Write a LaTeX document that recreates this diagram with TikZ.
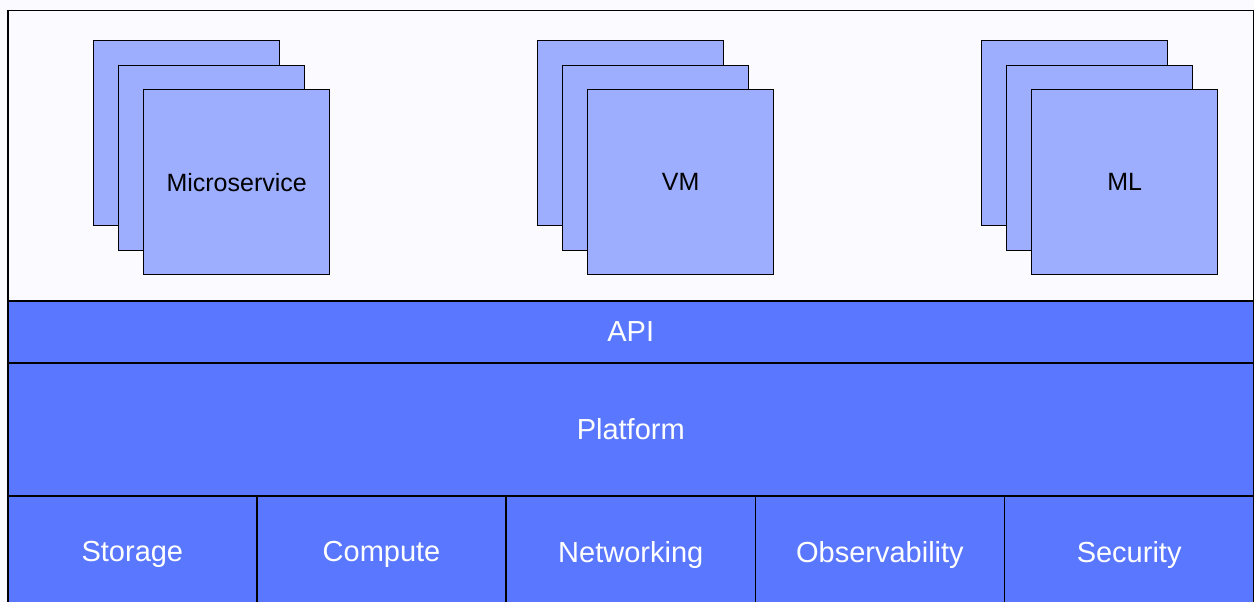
\documentclass[tikz,border=0pt]{standalone}
\usepackage{fontspec}
\setmainfont{Liberation Sans}
\usetikzlibrary{positioning}

\definecolor{paleback}{HTML}{FAFAFF}
\definecolor{cardblue}{HTML}{9DAEFF}
\definecolor{layerblue}{HTML}{5A78FF}

\tikzset{
	layer/.style={draw=black, line width=1.5pt, fill=layerblue, text=white, inner sep=0pt, anchor=north west, font=\fontsize{29}{34}\selectfont},
	card/.style={draw=black, line width=1.3pt, fill=cardblue, inner sep=0pt, anchor=north west, minimum width=186pt, minimum height=185pt, font=\fontsize{25}{30}\selectfont}
}

\begin{document}
\begin{tikzpicture}[x=1pt,y=-1pt]
	\useasboundingbox (0,0) rectangle (1254,602);
	\fill[paleback] (0,0) rectangle (1254,602);
	\clip (0,0) rectangle (1254,602);

	% Workload area
	\node[draw=black, line width=1.5pt, fill=paleback, inner sep=0pt, anchor=north west, minimum width=1246pt, minimum height=290pt] (workloads) at (7,10) {};

	% Stacked workloads, back to front
	\foreach \stackname/\stacktext/\x in {micro/Microservice/93, vm/VM/537, ml/ML/981} {
		\node[card] (\stackname1) at (\x,40) {};
		\node[card] (\stackname2) at (\x+25,65) {};
		\node[card] (\stackname3) at (\x+50,89) {\stacktext};
	}

	% Layers
	\node[layer, minimum width=1246pt, minimum height=62pt] (api) at (7,300) {API};
	\node[layer, minimum width=1246pt, minimum height=133pt] (platform) at (7,362) {Platform};

	% Building blocks (cut off at the bottom)
	\foreach \blockname/\blocktext [count=\i from 0] in {storage/Storage, compute/Compute, networking/Networking, observability/Observability, security/Security} {
		\node[layer, minimum width=249.2pt, minimum height=118pt] (\blockname) at (7+249.2*\i,495) {\blocktext};
	}
\end{tikzpicture}
\end{document}
